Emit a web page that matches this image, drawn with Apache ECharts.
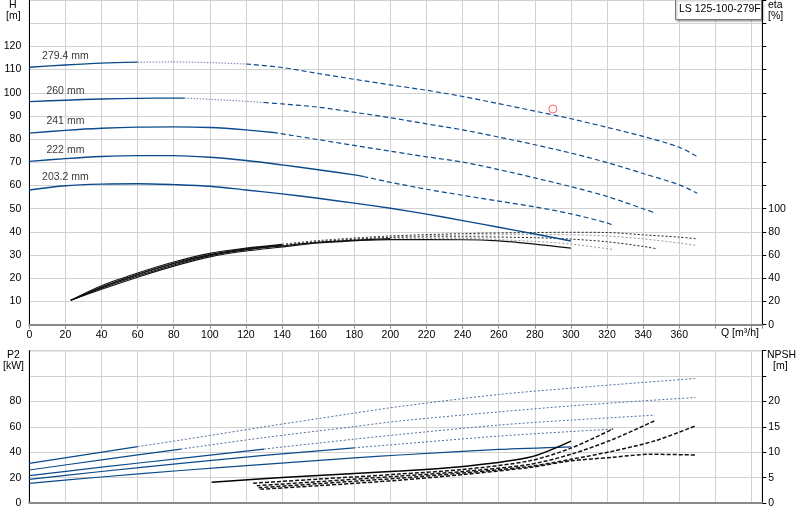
<!DOCTYPE html>
<html><head><meta charset="utf-8">
<script src="https://cdn.jsdelivr.net/npm/echarts@6/dist/echarts.min.js"></script>
<style>html,body{margin:0;padding:0;background:#fff}#c{width:800px;height:520px}</style>
</head><body><div id="c"></div>
<script>
// ---------- DATA ----------
const diameters = ['279.4 mm', '260 mm', '241 mm', '222 mm', '203.2 mm'];
const modelName = 'LS 125-100-279F';
const dutyPoint = [290, 93];

// Head H [m] vs Q [m3/h]
const head_2794 = [[0,111],[20,112],[40,112.8],[60,113.2],[80,113.3],[100,113],[120,112.4],[140,110.9],[160,108.3],[180,105.8],[200,103.4],[220,101.1],[240,98.4],[260,95.3],[280,92.1],[300,88.8],[320,85.1],[340,81.2],[360,76.5],[370,72.5]];
const head_260  = [[0,96.2],[20,96.8],[40,97.3],[60,97.6],[80,97.7],[86,97.7],[100,97.2],[120,96.3],[130,95.8],[140,95.2],[160,93.8],[180,91.6],[200,89.2],[220,86.6],[240,84.0],[260,80.9],[280,77.6],[300,74.0],[320,69.9],[340,65.2],[360,60.3],[370,56.7]];
const head_241  = [[0,82.6],[20,83.8],[40,84.7],[60,85.2],[80,85.3],[100,85.0],[120,84.0],[135,82.9],[160,79.8],[180,77.3],[200,74.8],[220,72.4],[240,70.1],[260,66.9],[280,63.3],[300,59.5],[320,55.3],[340,50.0],[347,48.1]];
const head_222  = [[0,70.4],[20,71.6],[40,72.5],[60,72.9],[80,72.9],[100,72.2],[120,70.8],[140,68.9],[160,66.8],[180,64.6],[185,63.9],[200,61.4],[220,58.4],[240,55.8],[260,53.3],[280,50.8],[300,47.8],[320,43.9],[324,42.6]];
const head_2032 = [[0,58.1],[20,59.9],[40,60.6],[60,60.8],[80,60.4],[100,59.7],[120,58.1],[140,56.4],[160,54.5],[180,52.4],[200,50.2],[220,47.7],[240,44.9],[260,42.0],[280,39.1],[300,36.1]];

// Efficiency eta [%]
const eta_2794 = [[23,21],[40,33.5],[60,44.5],[80,54],[100,61.5],[120,66],[140,69.3],[160,72.5],[200,76.5],[240,78.5],[280,79.5],[300,79.7],[320,79.5],[340,77.5],[360,75.5],[370,74]];
const eta_260  = [[23,21],[40,32.5],[60,43.5],[80,53],[100,60.5],[120,65.5],[140,68.5],[160,72],[200,75.8],[240,77.2],[280,77.7],[300,77.5],[320,76.5],[340,74],[360,70.5],[369,68.5]];
const eta_241  = [[23,21],[40,32],[60,43],[80,52.5],[100,60],[120,65],[140,68.2],[160,71.5],[200,75.2],[240,75.8],[280,75],[300,73.8],[320,71.5],[340,67.5],[347,65.6]];
const eta_222  = [[23,21],[40,31.5],[60,42],[80,51.5],[100,59.5],[120,64.5],[140,68],[160,71],[200,74.2],[240,74.3],[280,71.8],[300,69.5],[324,64.7]];
const eta_2032 = [[23,21],[40,30.5],[60,41],[80,50.5],[100,58.5],[120,63.5],[140,67],[160,70.5],[200,73.4],[240,73.3],[260,72.3],[280,69.5],[300,66]];

// Shaft power P2 [kW]
const p2_2794 = [[0,31.2],[60,44.4],[84,49.6],[130,60],[180,70.8],[205,76],[260,85.5],[300,90.5],[340,95],[369,98.1]];
const p2_260  = [[0,26],[40,34],[84,42.5],[130,51.5],[180,60.2],[205,64.6],[260,71.8],[300,76.5],[340,80.5],[369,83.1]];
const p2_241  = [[0,21.5],[40,28.2],[84,35.2],[130,42.5],[180,50.3],[205,54],[260,61.4],[300,65.3],[346.5,69.2]];
const p2_222  = [[0,18.6],[40,24.8],[84,31.2],[130,37.5],[180,43.5],[205,46.4],[260,52.7],[300,56.3],[323,58.2]];
const p2_2032 = [[0,15.5],[40,20.5],[84,25.6],[130,30.4],[180,35.5],[205,37.8],[260,42.2],[300,44.3]];

// NPSH [m]
const npsh_2794 = [[128,2.7],[160,3.4],[205,4.5],[240,5.6],[277,7.0],[300,8.3],[323,9.0],[344,9.6],[369,9.45]];
const npsh_260  = [[127,3.0],[160,3.8],[205,4.9],[240,5.9],[277,7.2],[300,8.6],[323,10.2],[347,12.3],[369,15.2]];
const npsh_241  = [[126,3.4],[160,4.2],[205,5.3],[240,6.2],[277,7.6],[300,9.6],[323,12.5],[347,16.3]];
const npsh_222  = [[124,3.9],[160,4.7],[205,5.7],[240,6.6],[277,8.3],[300,10.8],[323.4,14.6]];
const npsh_2032 = [[101,4.1],[140,5.0],[180,5.8],[205,6.3],[240,7.2],[277,9.0],[300,12.2]];

const headCurves = [head_2794, head_260, head_241, head_222, head_2032];
const etaCurves  = [eta_2794, eta_260, eta_241, eta_222, eta_2032];
const p2Curves   = [p2_2794, p2_260, p2_241, p2_222, p2_2032];
const npshCurves = [npsh_2794, npsh_260, npsh_241, npsh_222, npsh_2032];

// ---------- STYLE ----------
const FONT = '"Liberation Sans", Arial, sans-serif';
const FS = 10.5;
const BLUE = '#0b4a8c';
const headBreaks = [[60,120],[86,130],[135,135],[185,185],[400,400]];
const etaBreaks  = [140,140,140,200,400];
const p2Breaks   = [60,84,130,180,400];

const seg = (d, a, b) => d.filter(p => p[0] >= a && p[0] <= b);
const series = [];
function line(data, xi, yi, ls, z) {
  if (data.length < 2) return;
  series.push({type:'line', data, xAxisIndex:xi, yAxisIndex:yi, showSymbol:false, symbol:'none',
    smooth:0.3, silent:true, lineStyle:ls, z:z||2});
}
const solidBlue  = {color:BLUE, width:1.4};
const dottedBlue = {color:'#8595b3', width:1.2, type:[1.5,1.5]};
const dashedBlue = {color:BLUE, width:1.2, type:[5,3]};
headCurves.forEach((c,i)=>{
  const [b1,b2] = headBreaks[i];
  line(seg(c,0,b1),0,0,solidBlue,3);
  line(seg(c,b1,b2),0,0,dottedBlue,3);
  line(seg(c,b2,1000),0,0,dashedBlue,3);
});
etaCurves.forEach((c,i)=>{
  line(seg(c,0,etaBreaks[i]),0,1,{color:'#111',width:1.1});
  line(seg(c,etaBreaks[i],1000),0,1,{color:i%2?'#999':'#222',width:1,type:[2,2]});
});
p2Curves.forEach((c,i)=>{
  line(seg(c,0,p2Breaks[i]),1,2,{color:BLUE,width:1.2});
  line(seg(c,p2Breaks[i],1000),1,2,{color:'#52709c',width:1,type:[2,2]});
});
npshCurves.forEach((c,i)=>{
  if (i===4) line(c,1,3,{color:'#000',width:1.5},4);
  else line(c,1,3,{color:'#111',width:1.5,type:[4,2]},4);
});
series.push({type:'scatter', xAxisIndex:0, yAxisIndex:0, symbolSize:1, silent:true,
  itemStyle:{color:'rgba(0,0,0,0)'},
  data: headCurves.map((c,i)=>({name:diameters[i], value:c.find(p=>p[0]===20)})),
  label:{show:true, position:'top', distance:3, formatter:'{b}', color:'#000', fontFamily:FONT, fontSize:FS}, z:5});
series.push({type:'scatter', xAxisIndex:0, yAxisIndex:0, symbol:'circle', symbolSize:8, silent:true,
  itemStyle:{color:'#fff', borderColor:'#ff3b3b', borderWidth:1}, data:[dutyPoint], z:6});

const lab = {color:'#000', fontFamily:FONT, fontSize:FS};
const gridLine = {show:true, lineStyle:{color:'#d2d2d2', width:1}};
const xCommon = {type:'value', min:0, max:406, interval:20, splitLine:gridLine,
  axisLine:{show:true, lineStyle:{color:'#8a8a8a', width:2}}};

const option = {
  animation:false,
  backgroundColor:'#fff',
  grid:[
    {left:29.3, right:37.7, top:0, height:324.7, show:true, borderColor:'#aaa', borderWidth:1},
    {left:29.3, right:37.7, top:350.7, height:152.3, show:true, borderColor:'#777', borderWidth:1}
  ],
  xAxis:[
    Object.assign({}, xCommon, {gridIndex:0, axisTick:{show:true, length:4, lineStyle:{color:'#8a8a8a'}},
      axisLabel:Object.assign({}, lab, {margin:5, formatter:v=>v<=360?v:''})}),
    Object.assign({}, xCommon, {gridIndex:1, axisTick:{show:false}, axisLabel:{show:false}})
  ],
  yAxis:[
    {type:'value', gridIndex:0, position:'left', min:0, max:140, interval:10, splitLine:gridLine,
      axisLine:{show:true, lineStyle:{color:'#000'}}, axisTick:{show:false},
      axisLabel:Object.assign({}, lab, {margin:8, formatter:v=>v<=120?v:''})},
    {type:'value', gridIndex:0, position:'right', min:0, max:280, interval:20, splitLine:{show:false},
      axisLine:{show:true, lineStyle:{color:'#000'}}, axisTick:{show:true, length:4, lineStyle:{color:'#000'}},
      axisLabel:Object.assign({}, lab, {margin:6, formatter:v=>v<=100?v:''})},
    {type:'value', gridIndex:1, position:'left', min:0, max:120, interval:20, splitLine:gridLine,
      axisLine:{show:true, lineStyle:{color:'#000'}}, axisTick:{show:false},
      axisLabel:Object.assign({}, lab, {margin:8, formatter:v=>v<=80?v:''})},
    {type:'value', gridIndex:1, position:'right', min:0, max:30, interval:5, splitLine:{show:false},
      axisLine:{show:true, lineStyle:{color:'#000'}}, axisTick:{show:true, length:4, lineStyle:{color:'#000'}},
      axisLabel:Object.assign({}, lab, {margin:6, formatter:v=>v<=20?v:''})}
  ],
  graphic:[
    {type:'text', left:9, top:0, style:{text:'H', font:FS+'px '+FONT, fill:'#000'}},
    {type:'text', left:6, top:11, style:{text:'[m]', font:FS+'px '+FONT, fill:'#000'}},
    {type:'text', left:768, top:0, style:{text:'eta', font:FS+'px '+FONT, fill:'#000'}},
    {type:'text', left:768, top:11, style:{text:'[%]', font:FS+'px '+FONT, fill:'#000'}},
    {type:'text', left:721, top:328, style:{text:'Q [m³/h]', font:FS+'px '+FONT, fill:'#000'}},
    {type:'text', left:7, top:350, style:{text:'P2', font:FS+'px '+FONT, fill:'#000'}},
    {type:'text', left:3, top:361, style:{text:'[kW]', font:FS+'px '+FONT, fill:'#000'}},
    {type:'text', left:767, top:350, style:{text:'NPSH', font:FS+'px '+FONT, fill:'#000'}},
    {type:'text', left:773, top:361, style:{text:'[m]', font:FS+'px '+FONT, fill:'#000'}},
    {type:'rect', left:675, top:-1, shape:{width:86, height:20},
      style:{fill:'#fff', stroke:'#7a7a7a', lineWidth:1, shadowBlur:2, shadowColor:'rgba(0,0,0,0.35)', shadowOffsetX:1, shadowOffsetY:1}, z:10},
    {type:'text', left:679, top:4, style:{text:modelName, font:FS+'px '+FONT, fill:'#000'}, z:11}
  ],
  series
};
echarts.init(document.getElementById('c'), null, {renderer:'canvas'}).setOption(option);
</script></body></html>
